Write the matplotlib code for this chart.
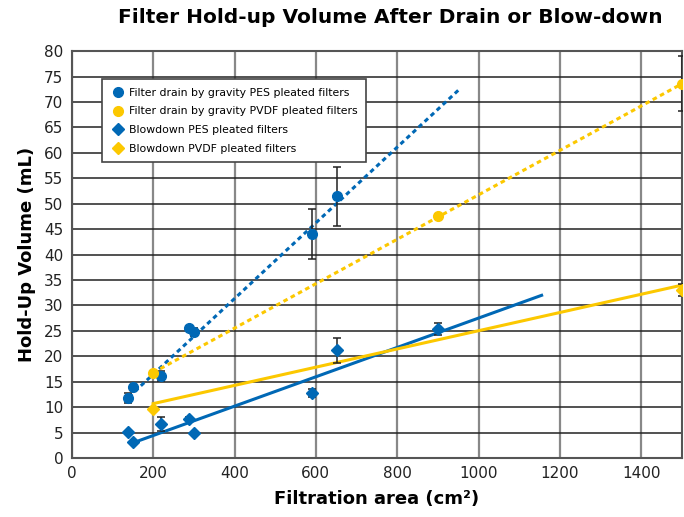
import numpy as np
import matplotlib
matplotlib.use("Agg")
import matplotlib.pyplot as plt
from matplotlib.lines import Line2D

# gravity drain, PES (circles)
pes_grav_x = [138, 150, 220, 287, 300, 590, 652]
pes_grav_y = [11.8, 14.0, 16.1, 25.6, 24.8, 44.0, 51.5]
pes_grav_err = [1.0, 0.3, 1.0, 0.3, 0.8, 4.9, 5.8]

# gravity drain, PVDF (circles)
pvdf_grav_x = [200, 900, 1500]
pvdf_grav_y = [16.8, 47.5, 73.6]
pvdf_grav_err = [0.3, 0.5, 5.4]

# blowdown, PES (diamonds)
pes_blow_x = [138, 150, 220, 289, 300, 590, 652, 900]
pes_blow_y = [5.1, 3.1, 6.7, 7.7, 4.9, 12.8, 21.2, 25.3]
pes_blow_err = [0.3, 0.3, 1.3, 0.3, 0.3, 0.7, 2.5, 1.2]

# blowdown, PVDF (diamonds)
pvdf_blow_x = [200, 1500]
pvdf_blow_y = [9.6, 33.0]
pvdf_blow_err = [0.3, 1.2]

# trend lines (end points)
trend_pes_grav_x = [140, 950]
trend_pes_grav_y = [12.0, 72.3]
trend_pvdf_grav_x = [200, 1500]
trend_pvdf_grav_y = [16.8, 73.6]
trend_pes_blow_x = [147, 1155]
trend_pes_blow_y = [2.9, 32.0]
trend_pvdf_blow_x = [200, 1500]
trend_pvdf_blow_y = [10.7, 34.0]

labels = ["Filter drain by gravity PES pleated filters",
          "Filter drain by gravity PVDF pleated filters",
          "Blowdown PES pleated filters",
          "Blowdown PVDF pleated filters"]

BLUE = "#0068b5"
YELLOW = "#fcc800"

fig = plt.figure(figsize=(6.84, 5.17), dpi=100)
ax = fig.add_axes([0.105, 0.114, 0.892, 0.787])

# trend lines
ax.plot(trend_pes_grav_x, trend_pes_grav_y, color=BLUE, lw=2.2, ls=(0, (1.5, 1.2)), zorder=3)
ax.plot(trend_pvdf_grav_x, trend_pvdf_grav_y, color=YELLOW, lw=2.2, ls=(0, (1.5, 1.2)), zorder=3)
ax.plot(trend_pes_blow_x, trend_pes_blow_y, color=BLUE, lw=2.2, zorder=3)
ax.plot(trend_pvdf_blow_x, trend_pvdf_blow_y, color=YELLOW, lw=2.2, zorder=3)

ebkw = dict(ecolor="#222222", elinewidth=1.1, capsize=3, capthick=1.1, ls="none", zorder=4)
ax.errorbar(pes_grav_x, pes_grav_y, yerr=pes_grav_err, fmt="o", color=BLUE, ms=7, **ebkw)
ax.errorbar(pvdf_grav_x, pvdf_grav_y, yerr=pvdf_grav_err, fmt="o", color=YELLOW, ms=7, **ebkw)
ax.errorbar(pes_blow_x, pes_blow_y, yerr=pes_blow_err, fmt="D", color=BLUE, ms=6, **ebkw)
ax.errorbar(pvdf_blow_x, pvdf_blow_y, yerr=pvdf_blow_err, fmt="D", color=YELLOW, ms=6, **ebkw)

ax.set_xlim(0, 1500)
ax.set_ylim(0, 80)
ax.set_xticks(np.arange(0, 1401, 200))
ax.set_yticks(np.arange(0, 81, 5))
ax.tick_params(labelsize=11, length=0, pad=6, colors="#222222")

ax.yaxis.grid(True, color="#222222", lw=1.1)
ax.xaxis.grid(True, color="#888888", lw=1.6)
ax.set_axisbelow(True)
for s in ax.spines.values():
    s.set_color("#555555")
    s.set_linewidth(1.5)

ax.set_xlabel("Filtration area (cm²)", fontsize=13, fontweight="bold", labelpad=6)
ax.set_ylabel("Hold-Up Volume (mL)", fontsize=13, fontweight="bold", labelpad=6)
fig.suptitle("Filter Hold-up Volume After Drain or Blow-down", fontsize=14.5,
             fontweight="bold", x=0.57, y=0.985)

handles = [Line2D([], [], ls="none", marker=m, color=c, ms=s)
           for m, c, s in [("o", BLUE, 7), ("o", YELLOW, 7), ("D", BLUE, 6), ("D", YELLOW, 6)]]
leg = ax.legend(handles, labels, loc="upper left", bbox_to_anchor=(0.04, 0.945), fontsize=7.8,
                frameon=True, fancybox=False, edgecolor="#444444", framealpha=1,
                handletextpad=0.3, borderpad=0.8, labelspacing=0.8, handlelength=1.4)
leg.get_frame().set_linewidth(1.2)

fig.savefig("out.png", dpi=100)
